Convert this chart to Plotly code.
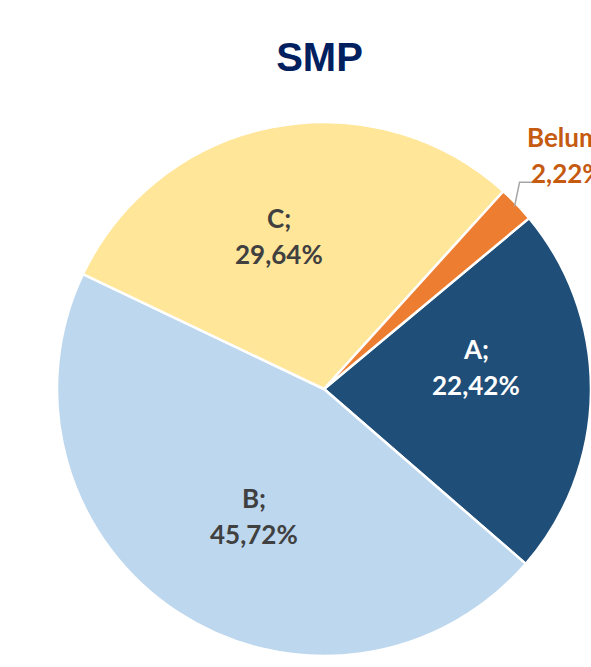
import math
import plotly.graph_objects as go

# ---- data ----
categories = ["A", "B", "C", "Belum"]
values = [22.42, 45.72, 29.64, 2.22]
value_labels = ["22,42%", "45,72%", "29,64%", "2,22%"]
colors = ["#1F4E79", "#BDD7EE", "#FFE699", "#ED7D31"]
text_colors = ["#FFFFFF", "#404040", "#404040", "#C55A11"]
title_text = "SMP"

# ---- layout constants ----
W, H = 591, 667
ML, MR, MT, MB = 57, 0, 122, 11
ROTATION = 50.2
LABEL_FONT = "Lato"
LABEL_SIZE = 26
LINE_GAP = 36          # px between label lines
LABEL_RADIUS = 0.57    # fraction of radius for inside labels
LABEL_ANGLE_SHIFT = -6  # degrees
LABEL_LIFT = 8          # px

fig = go.Figure(go.Pie(
    labels=categories,
    values=values,
    textinfo="none",
    sort=False,
    direction="clockwise",
    rotation=ROTATION,
    marker=dict(colors=colors, line=dict(color="#FFFFFF", width=2.5)),
    hoverinfo="label+percent",
    showlegend=False,
))

# geometry of the pie in pixels (derived from layout)
pw, ph = W - ML - MR, H - MT - MB
R = min(pw, ph) / 2
cx, cy = ML + pw / 2, MT + ph / 2

def to_paper(px, py):
    return (px - ML) / pw, (H - MB - py) / ph

def add_label(px, py, name, val, color):
    for dy, t in ((-LINE_GAP / 2, f"{name};"), (LINE_GAP / 2, val)):
        x, y = to_paper(px, py + dy)
        fig.add_annotation(x=x, y=y, xref="paper", yref="paper", text=f"<b>{t}</b>",
                           showarrow=False, xanchor="center", yanchor="middle",
                           font=dict(family=LABEL_FONT, size=LABEL_SIZE, color=color))

total = sum(values)
cum = 0.0
for i, (c, v) in enumerate(zip(categories, values)):
    mid_deg = ROTATION + 360 * (cum + v / 2) / total
    cum += v
    if i < 3:
        a = math.radians(mid_deg + LABEL_ANGLE_SHIFT)
        r = R * LABEL_RADIUS
        add_label(cx + r * math.sin(a), cy - r * math.cos(a) - LABEL_LIFT,
                  c, value_labels[i], text_colors[i])
    else:
        a = math.radians(mid_deg)
        ex, ey = cx + (R - 3) * math.sin(a), cy - (R - 3) * math.cos(a)
        kx, ky = ex + 5, ey - 24
        hx, hy = kx + 13, ky
        x0, y0 = to_paper(ex, ey)
        x1, y1 = to_paper(kx, ky)
        x2, y2 = to_paper(hx, hy)
        fig.add_shape(type="path", xref="paper", yref="paper",
                      path=f"M {x0} {y0} L {x1} {y1} L {x2} {y2}",
                      line=dict(color="#A6A6A6", width=1.5))
        add_label(hx + 35, hy - 27, c, value_labels[i], text_colors[i])

fig.update_layout(
    width=W, height=H,
    margin=dict(l=ML, r=MR, t=MT, b=MB),
    paper_bgcolor="#FFFFFF",
    title=dict(text=f"<b>{title_text}</b>", x=319.5 / W, xref="container",
               xanchor="center", y=1 - 57 / H, yref="container", yanchor="middle",
               font=dict(family="Liberation Sans, Arial", size=40, color="#002060")),
)

fig.write_html("out.html", config={"displayModeBar": False},
               post_script="document.body.style.margin='0';document.body.style.overflow='hidden';")
